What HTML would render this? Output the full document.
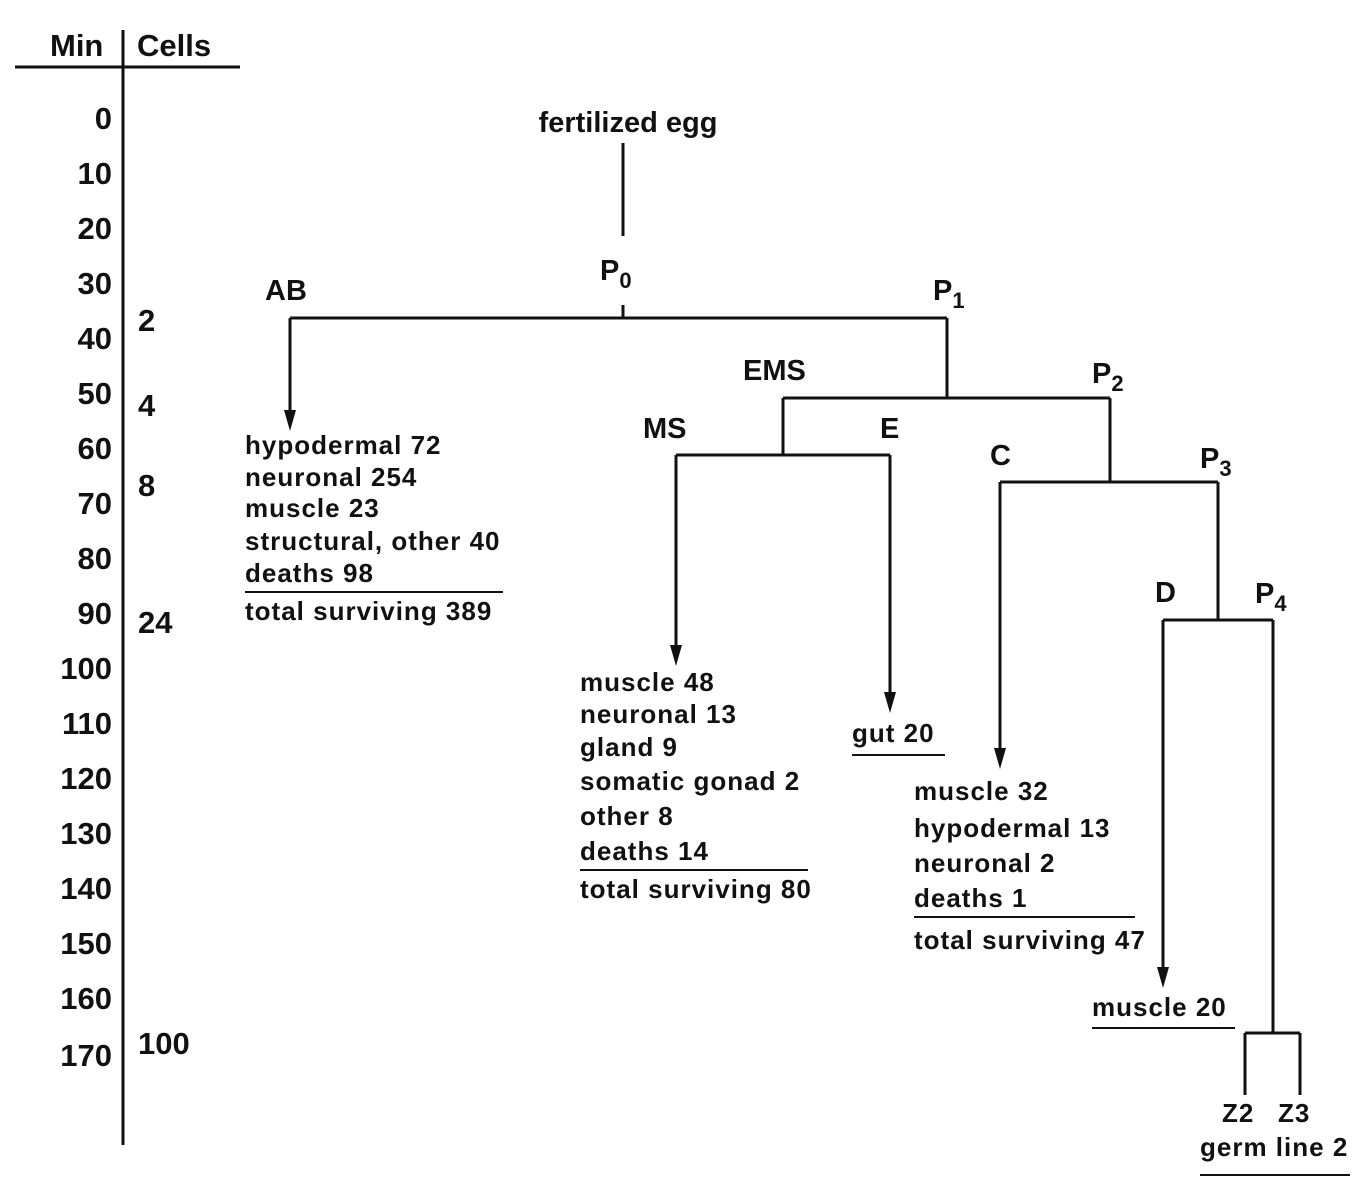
<!DOCTYPE html>
<html><head><meta charset="utf-8"><style>
html,body{margin:0;padding:0;background:#fff;}
svg{display:block;}
text{font-family:"Liberation Sans",sans-serif;font-weight:bold;fill:#111;}
.ax{font-size:31px;}
.lb{font-size:29px;}
.t{font-size:26px;letter-spacing:1px;}
</style></head><body>
<svg width="1372" height="1182" viewBox="0 0 1372 1182" xmlns="http://www.w3.org/2000/svg">
<g stroke="#111" stroke-width="3" fill="none">
<line x1="15" y1="67" x2="240" y2="67"/>
<line x1="123" y1="30" x2="123" y2="1145"/>
<line x1="623" y1="143" x2="623" y2="236"/>
<line x1="623" y1="305" x2="623" y2="318"/>
<line x1="290" y1="318" x2="947" y2="318"/>
<line x1="290" y1="318" x2="290" y2="415"/>
<line x1="947" y1="318" x2="947" y2="398"/>
<line x1="783" y1="398" x2="1110" y2="398"/>
<line x1="783" y1="398" x2="783" y2="455"/>
<line x1="676" y1="455" x2="890" y2="455"/>
<line x1="676" y1="455" x2="676" y2="650"/>
<line x1="890" y1="455" x2="890" y2="697"/>
<line x1="1110" y1="398" x2="1110" y2="482"/>
<line x1="1000" y1="482" x2="1218" y2="482"/>
<line x1="1000" y1="482" x2="1000" y2="753"/>
<line x1="1218" y1="482" x2="1218" y2="620"/>
<line x1="1163" y1="620" x2="1273" y2="620"/>
<line x1="1163" y1="620" x2="1163" y2="972"/>
<line x1="1273" y1="620" x2="1273" y2="1033"/>
<line x1="1245" y1="1033" x2="1300" y2="1033"/>
<line x1="1245" y1="1033" x2="1245" y2="1095"/>
<line x1="1300" y1="1033" x2="1300" y2="1095"/>
<line x1="245" y1="592" x2="503" y2="592" stroke-width="2"/>
<line x1="580" y1="870" x2="808" y2="870" stroke-width="2"/>
<line x1="852" y1="755" x2="945" y2="755" stroke-width="2"/>
<line x1="914" y1="917" x2="1135" y2="917" stroke-width="2"/>
<line x1="1092" y1="1028" x2="1235" y2="1028" stroke-width="2"/>
<line x1="1200" y1="1175" x2="1350" y2="1175" stroke-width="2"/>
</g>
<g fill="#111">
<path d="M284,410 L296,410 L290,431 Z"/>
<path d="M670,645 L682,645 L676,666 Z"/>
<path d="M884,692 L896,692 L890,713 Z"/>
<path d="M994,748 L1006,748 L1000,769 Z"/>
<path d="M1157,967 L1169,967 L1163,988 Z"/>
</g>
<text class="ax" x="50" y="56">Min</text>
<text class="ax" x="137" y="56">Cells</text>
<g class="ax" text-anchor="end">
<text x="112" y="129">0</text><text x="112" y="184">10</text><text x="112" y="239">20</text><text x="112" y="294">30</text>
<text x="112" y="349">40</text><text x="112" y="404">50</text><text x="112" y="459">60</text><text x="112" y="514">70</text>
<text x="112" y="569">80</text><text x="112" y="624">90</text><text x="112" y="679">100</text><text x="112" y="734">110</text>
<text x="112" y="789">120</text><text x="112" y="844">130</text><text x="112" y="899">140</text><text x="112" y="954">150</text>
<text x="112" y="1009">160</text><text x="112" y="1066">170</text>
</g>
<g class="ax"><text x="138" y="331">2</text><text x="138" y="416">4</text><text x="138" y="496">8</text><text x="138" y="633">24</text><text x="138" y="1054">100</text></g>
<text class="lb" x="628" y="132" text-anchor="middle" font-size="34">fertilized egg</text>
<text class="lb" x="600" y="280">P<tspan font-size="22" dy="8">0</tspan></text>
<text class="lb" x="265" y="300">AB</text>
<text class="lb" x="933" y="300">P<tspan font-size="22" dy="8">1</tspan></text>
<text class="lb" x="743" y="380">EMS</text>
<text class="lb" x="1092" y="383">P<tspan font-size="22" dy="8">2</tspan></text>
<text class="lb" x="643" y="438">MS</text>
<text class="lb" x="880" y="438">E</text>
<text class="lb" x="990" y="465">C</text>
<text class="lb" x="1200" y="468">P<tspan font-size="22" dy="8">3</tspan></text>
<text class="lb" x="1155" y="602">D</text>
<text class="lb" x="1255" y="603">P<tspan font-size="22" dy="8">4</tspan></text>
<g class="t">
<text x="245" y="454">hypodermal 72</text><text x="245" y="486">neuronal 254</text><text x="245" y="517">muscle 23</text>
<text x="245" y="550">structural, other 40</text><text x="245" y="582">deaths 98</text><text x="245" y="620">total surviving 389</text>
<text x="580" y="691">muscle 48</text><text x="580" y="723">neuronal 13</text><text x="580" y="756">gland 9</text>
<text x="580" y="790">somatic gonad 2</text><text x="580" y="825">other 8</text><text x="580" y="860">deaths 14</text><text x="580" y="898">total surviving 80</text>
<text x="852" y="742">gut 20</text>
<text x="914" y="800">muscle 32</text><text x="914" y="837">hypodermal 13</text><text x="914" y="872">neuronal 2</text>
<text x="914" y="907">deaths 1</text><text x="914" y="949">total surviving 47</text>
<text x="1092" y="1016">muscle 20</text>
<text x="1222" y="1122" font-weight="normal" font-size="26">Z2</text><text x="1278" y="1122" font-weight="normal" font-size="26">Z3</text>
<text x="1200" y="1156">germ line 2</text>
</g>
</svg>
</body></html>
